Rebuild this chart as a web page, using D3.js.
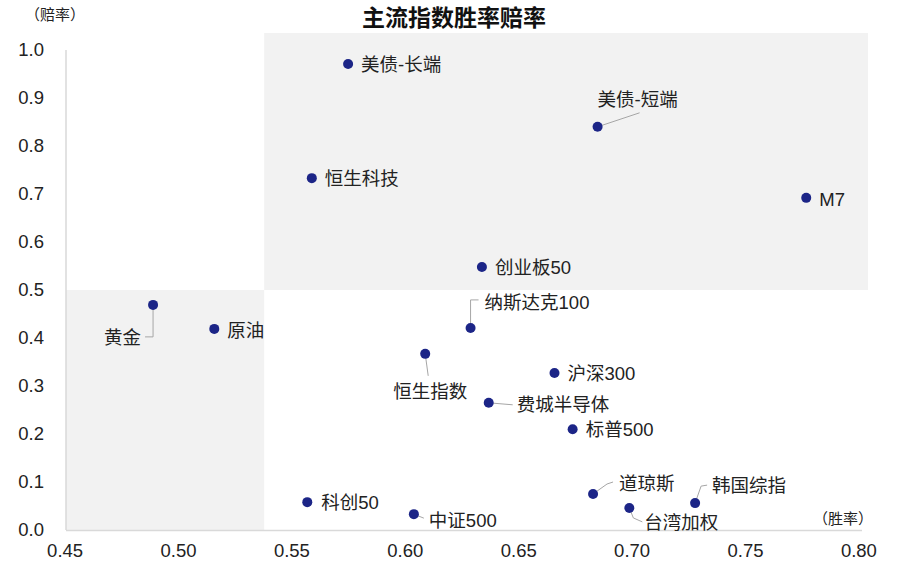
<!DOCTYPE html>
<html><head><meta charset="utf-8">
<script src="https://cdn.jsdelivr.net/npm/d3@7"></script>
<style>
html,body{margin:0;padding:0;background:#fff;}
text{font-family:"Liberation Sans","Noto Sans CJK SC",Arial,sans-serif;}
</style></head>
<body><svg id="c" width="900" height="576"></svg>
<script>
// ---- data ----
const names = ["美债-长端","美债-短端","恒生科技","M7","创业板50","纳斯达克100","黄金","原油","恒生指数","沪深300","费城半导体","标普500","道琼斯","韩国综指","台湾加权","科创50","中证500"];
const winRate = [0.575,0.685,0.559,0.777,0.634,0.629,0.489,0.516,0.609,0.666,0.637,0.674,0.683,0.728,0.699,0.557,0.604];
const oddsRatio = [0.971,0.840,0.733,0.692,0.548,0.421,0.469,0.419,0.367,0.327,0.265,0.210,0.075,0.056,0.046,0.058,0.033];
const xTicks = [0.45,0.50,0.55,0.60,0.65,0.70,0.75,0.80];
const yTicks = [0.0,0.1,0.2,0.3,0.4,0.5,0.6,0.7,0.8,0.9,1.0];
const quadrantSplit = {x:0.538, y:0.5};
const title = "主流指数胜率赔率";
const xName = "（胜率）", yName = "（赔率）";

// ---- layout (label placement: dx,dy of label anchor from point; leader path in offsets) ----
const labelLayout = {
  "美债-长端":{dx:13,dy:0,anchor:"start"},
  "美债-短端":{dx:0,dy:-27,anchor:"start",lead:[[0,0],[42,-14]]},
  "恒生科技":{dx:13,dy:0,anchor:"start"},
  "M7":{dx:13,dy:1,anchor:"start"},
  "创业板50":{dx:13,dy:0,anchor:"start"},
  "纳斯达克100":{dx:14,dy:-26,anchor:"start",lead:[[0,0],[0,-28],[8,-28]]},
  "黄金":{dx:-12,dy:32,anchor:"end",lead:[[0,0],[0,32],[-8,32]]},
  "原油":{dx:13,dy:1,anchor:"start"},
  "恒生指数":{dx:5,dy:37,anchor:"middle",lead:[[0,0],[3,22]]},
  "沪深300":{dx:13,dy:0,anchor:"start"},
  "费城半导体":{dx:28,dy:2,anchor:"start",lead:[[0,0],[24,2]]},
  "标普500":{dx:13,dy:0,anchor:"start"},
  "道琼斯":{dx:26,dy:-11,anchor:"start",lead:[[0,0],[14,-10],[20,-12]]},
  "韩国综指":{dx:17,dy:-18,anchor:"start",lead:[[0,0],[6,-17],[12,-18]]},
  "台湾加权":{dx:15,dy:14,anchor:"start",lead:[[0,0],[4,10],[13,14]]},
  "科创50":{dx:14,dy:0,anchor:"start"},
  "中证500":{dx:15,dy:6,anchor:"start",lead:[[0,0],[10,4]]}
};

const svg = d3.select("#c");
const x = d3.scaleLinear().domain([0.45,0.80]).range([64.6,858.4]);
const y = d3.scaleLinear().domain([0,1]).range([530,50]);
const plotRight = 868, plotTop = 33;

// quadrant shading
svg.append("rect").attr("x",x(quadrantSplit.x)).attr("y",plotTop)
  .attr("width",plotRight-x(quadrantSplit.x)).attr("height",y(quadrantSplit.y)-plotTop)
  .attr("fill","#f2f2f2");
svg.append("rect").attr("x",x(0.45)+1.4).attr("y",y(quadrantSplit.y))
  .attr("width",x(quadrantSplit.x)-x(0.45)-1.4).attr("height",y(0)-y(quadrantSplit.y))
  .attr("fill","#f2f2f2");

// axes
const xAxis = svg.append("g").attr("transform",`translate(0,${y(0)})`)
  .call(d3.axisBottom(x).tickValues(xTicks).tickFormat(d3.format(".2f")).tickSize(0).tickPadding(14));
xAxis.select(".domain").attr("d",`M66,0.5H862`).attr("stroke","#d9d9d9").attr("stroke-width",1.5);
xAxis.selectAll("text").attr("font-size",18.5).attr("fill","#222");

const yAxis = svg.append("g").attr("transform",`translate(66,0)`)
  .call(d3.axisLeft(y).tickValues(yTicks).tickFormat(d3.format(".1f")).tickSize(0).tickPadding(22));
yAxis.select(".domain").attr("d",`M0,${y(1)}V${y(0)}`).attr("stroke","#d9d9d9").attr("stroke-width",1.5);
yAxis.selectAll("text").attr("font-size",18.5).attr("fill","#222");

// title & axis names
svg.append("text").attr("x",454).attr("y",26).attr("text-anchor","middle")
  .attr("font-size",23).attr("font-weight","bold").attr("fill","#111").text(title);
svg.append("text").attr("x",55).attr("y",20).attr("text-anchor","middle")
  .attr("font-size",15).attr("fill","#222").text(yName);
svg.append("text").attr("x",843).attr("y",524).attr("text-anchor","middle")
  .attr("font-size",15).attr("fill","#222").text(xName);

// points
const data = names.map((n,i)=>({name:n, w:winRate[i], o:oddsRatio[i]}));
const g = svg.append("g");
data.forEach(d=>{
  const L = labelLayout[d.name];
  const px = x(d.w), py = y(d.o);
  if (L.lead) {
    g.append("path").attr("d", d3.line()(L.lead.map(p=>[px+p[0],py+p[1]])))
      .attr("fill","none").attr("stroke","#a6a6a6").attr("stroke-width",1);
  }
  g.append("circle").attr("cx",px).attr("cy",py).attr("r",5).attr("fill","#1c2587");
  g.append("text").attr("x",px+L.dx).attr("y",py+L.dy).attr("dy","0.36em")
    .attr("text-anchor",L.anchor).attr("font-size",18.5).attr("fill","#222").text(d.name);
});
</script></body></html>
